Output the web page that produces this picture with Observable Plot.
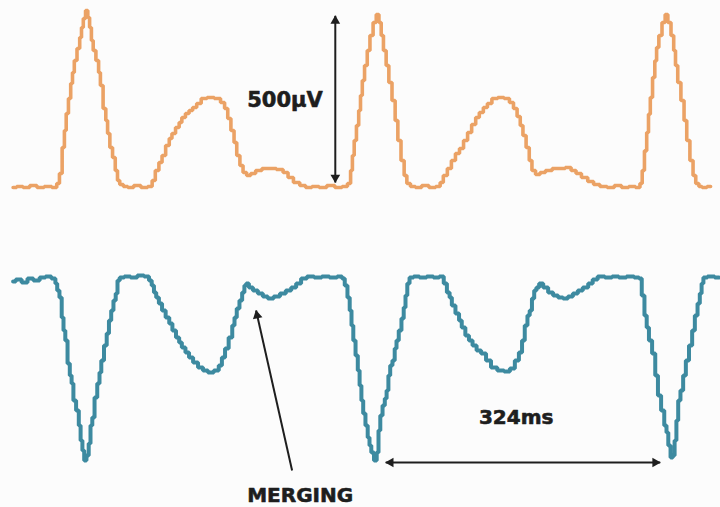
<!DOCTYPE html>
<html>
<head>
<meta charset="utf-8">
<script src="https://cdn.jsdelivr.net/npm/d3@7"></script>
<script src="https://cdn.jsdelivr.net/npm/@observablehq/plot@0.6"></script>
<style>
  html, body { margin: 0; padding: 0; background: #fcfcfc; }
  #chart svg { display: block; background: #fcfcfc; }
</style>
</head>
<body>
<div id="chart"></div>
<script>
// Time (ms) and amplitude (µV).
const orangeT = [14,22,28,37,44,53,61,64,67,70,72,74,77,79,81,83,87,89,91,93,96,98,100,102,104,108,110,112,116,118,120,123,126,129,131,134,139,144,152,160,167,170,174,178,181,186,189,192,197,200,203,208,211,216,220,226,233,242,247,251,254,258,261,264,268,271,276,280,287,294,302,311,317,322,329,336,342,350,358,367,376,383,388,
  390,392,394,397,399,401,403,406,409,412,416,419,422,424,427,430,433,437,440,443,447,450,453,458,464,472,480,487,490,494,499,503,508,512,517,521,526,530,534,539,543,549,556,563,568,572,576,579,582,586,589,592,597,602,609,617,624,631,637,642,649,656,662,670,678,686,694,702,709,
  712,714,717,719,721,723,726,728,730,733,737,740,743,747,749,751,754,758,761,764,768,771,774,778,781,789,798];
const orangeV = [0,3,0,6,0,3,0,12,42,120,171,222,267,312,345,381,417,450,480,507,531,510,480,441,411,381,345,306,237,201,162,120,90,51,21,9,3,0,6,0,3,21,51,75,96,126,147,162,180,195,210,222,231,240,252,267,270,267,255,237,207,171,135,96,66,45,36,42,51,57,57,54,45,30,15,6,0,3,0,6,0,3,12,
  51,96,141,186,231,276,321,366,411,456,495,519,495,456,411,366,315,261,201,141,81,36,12,3,0,6,0,3,15,36,57,81,102,117,141,165,189,210,225,240,252,267,270,267,255,237,213,186,156,120,81,51,39,45,51,57,57,60,51,42,30,18,9,3,0,6,0,3,0,
  12,51,110,165,220,270,330,380,420,456,495,519,495,456,411,366,315,261,201,141,81,36,12,3,0,3];

const tealT = [14,20,27,33,40,47,53,60,62,64,67,69,71,73,76,78,80,82,86,88,90,92,94,97,99,101,103,106,109,111,113,117,119,122,124,127,129,131,134,141,148,156,163,167,169,172,174,178,181,186,189,193,197,200,203,208,211,217,222,228,233,241,244,248,251,256,259,261,264,267,270,272,274,278,283,289,294,300,307,314,320,326,331,337,344,353,361,370,378,
  381,384,387,389,391,393,396,398,400,402,404,407,409,411,413,417,419,421,423,426,428,430,432,434,437,439,441,444,447,449,451,453,456,462,469,478,484,491,494,498,500,503,508,511,514,519,522,527,531,537,542,548,556,563,569,574,578,581,584,587,589,592,594,597,600,606,611,617,622,628,633,639,644,650,656,660,667,676,683,691,700,708,
  711,714,717,719,722,726,729,732,736,739,741,743,746,748,750,752,754,757,760,763,767,770,773,776,778,780,782,789,798];
const tealV = [-12,-6,-15,-3,-9,0,3,-3,-18,-39,-60,-120,-159,-189,-258,-294,-318,-369,-399,-444,-489,-519,-549,-534,-498,-444,-420,-360,-318,-285,-249,-204,-168,-129,-99,-69,-48,-9,0,3,0,6,3,-9,-24,-45,-60,-78,-99,-120,-138,-159,-180,-195,-210,-225,-240,-255,-270,-279,-285,-279,-264,-240,-213,-180,-144,-120,-93,-69,-45,-24,-18,-30,-39,-48,-57,-63,-57,-48,-39,-30,-18,-3,3,0,3,0,3,
  -3,-24,-60,-99,-144,-189,-234,-279,-324,-369,-408,-444,-480,-504,-525,-549,-525,-459,-414,-384,-363,-339,-294,-264,-249,-213,-189,-159,-123,-90,-54,-18,0,3,0,3,0,3,-18,-45,-60,-84,-108,-129,-150,-174,-189,-204,-219,-228,-249,-270,-279,-282,-273,-249,-225,-189,-144,-114,-99,-63,-39,-30,-18,-30,-45,-54,-60,-63,-57,-48,-39,-30,-18,-6,3,0,3,0,3,0,
  -3,-54,-114,-150,-189,-228,-294,-354,-399,-444,-465,-504,-540,-534,-489,-429,-369,-339,-294,-249,-204,-159,-114,-78,-48,-18,0,3,0];

// Annotation labels
const ampLabel = "500µV";
const ampSpan = [15, 515];          // µV, 500 µV
const periodLabel = "324ms";
const periodArrow = [428, 733];     // ms, as drawn
const mergeLabel = "MERGING";

const TEAL_OFFSET = -270;           // vertical placement of the lower trace (µV)

const orange = orangeT.map((t, i) => ({t, v: orangeV[i]}));
const teal = tealT.map((t, i) => ({t, v: tealV[i] + TEAL_OFFSET}));

const ink = "#1e1e1e";
const font = "DejaVu Sans";
const textStyle = {fontWeight: "bold", fontFamily: font, fill: ink, stroke: ink, strokeWidth: 0.6};

const chart = Plot.plot({
  width: 720,
  height: 507,
  marginTop: 0, marginRight: 0, marginBottom: 0, marginLeft: 0,
  x: {domain: [0, 800], axis: null},
  y: {domain: [-960, 561], axis: null},
  style: {background: "#fcfcfc"},
  marks: [
    Plot.line(orange, {x: "t", y: "v", curve: "step", stroke: "#EBA265", strokeWidth: 3.6, strokeLinejoin: "miter"}),
    Plot.line(teal, {x: "t", y: "v", curve: "step", stroke: "#3D8AA0", strokeWidth: 4, strokeLinejoin: "miter"}),

    // vertical amplitude arrow
    Plot.link([{x: 372, y1: ampSpan[0], y2: ampSpan[1]}], {x1: "x", x2: "x", y1: "y1", y2: "y2", stroke: ink, strokeWidth: 2}),
    Plot.dot([{x: 372, y: ampSpan[1]}], {x: "x", y: "y", symbol: "triangle", r: 3.6, fill: ink, stroke: "none", dy: 5, rotate: 0}),
    Plot.dot([{x: 372, y: ampSpan[0]}], {x: "x", y: "y", symbol: "triangle", r: 3.6, fill: ink, stroke: "none", dy: -5, rotate: 180}),
    Plot.text([ampLabel], {x: 358, y: 261, text: d => d, textAnchor: "end", fontSize: 21, ...textStyle}),

    // horizontal period arrow
    Plot.link([{y: -825, x1: periodArrow[0], x2: periodArrow[1]}], {x1: "x1", x2: "x2", y1: "y", y2: "y", stroke: ink, strokeWidth: 2}),
    Plot.dot([{x: periodArrow[0], y: -825}], {x: "x", y: "y", symbol: "triangle", r: 3.6, fill: ink, stroke: "none", dx: 5, rotate: -90}),
    Plot.dot([{x: periodArrow[1], y: -825}], {x: "x", y: "y", symbol: "triangle", r: 3.6, fill: ink, stroke: "none", dx: -5, rotate: 90}),
    Plot.text([periodLabel], {x: 573, y: -690, text: d => d, fontSize: 20, ...textStyle}),

    // merging pointer
    Plot.link([{x1: 324, y1: -849, x2: 284, y2: -369}], {x1: "x1", y1: "y1", x2: "x2", y2: "y2", stroke: ink, strokeWidth: 2}),
    Plot.dot([{x: 284, y: -369}], {x: "x", y: "y", symbol: "triangle", r: 3.6, fill: ink, stroke: "none", dx: 1, dy: 5, rotate: -12}),
    Plot.text([mergeLabel], {x: 333, y: -924, text: d => d, fontSize: 20, ...textStyle})
  ]
});
document.getElementById("chart").appendChild(chart);
</script>
</body>
</html>
